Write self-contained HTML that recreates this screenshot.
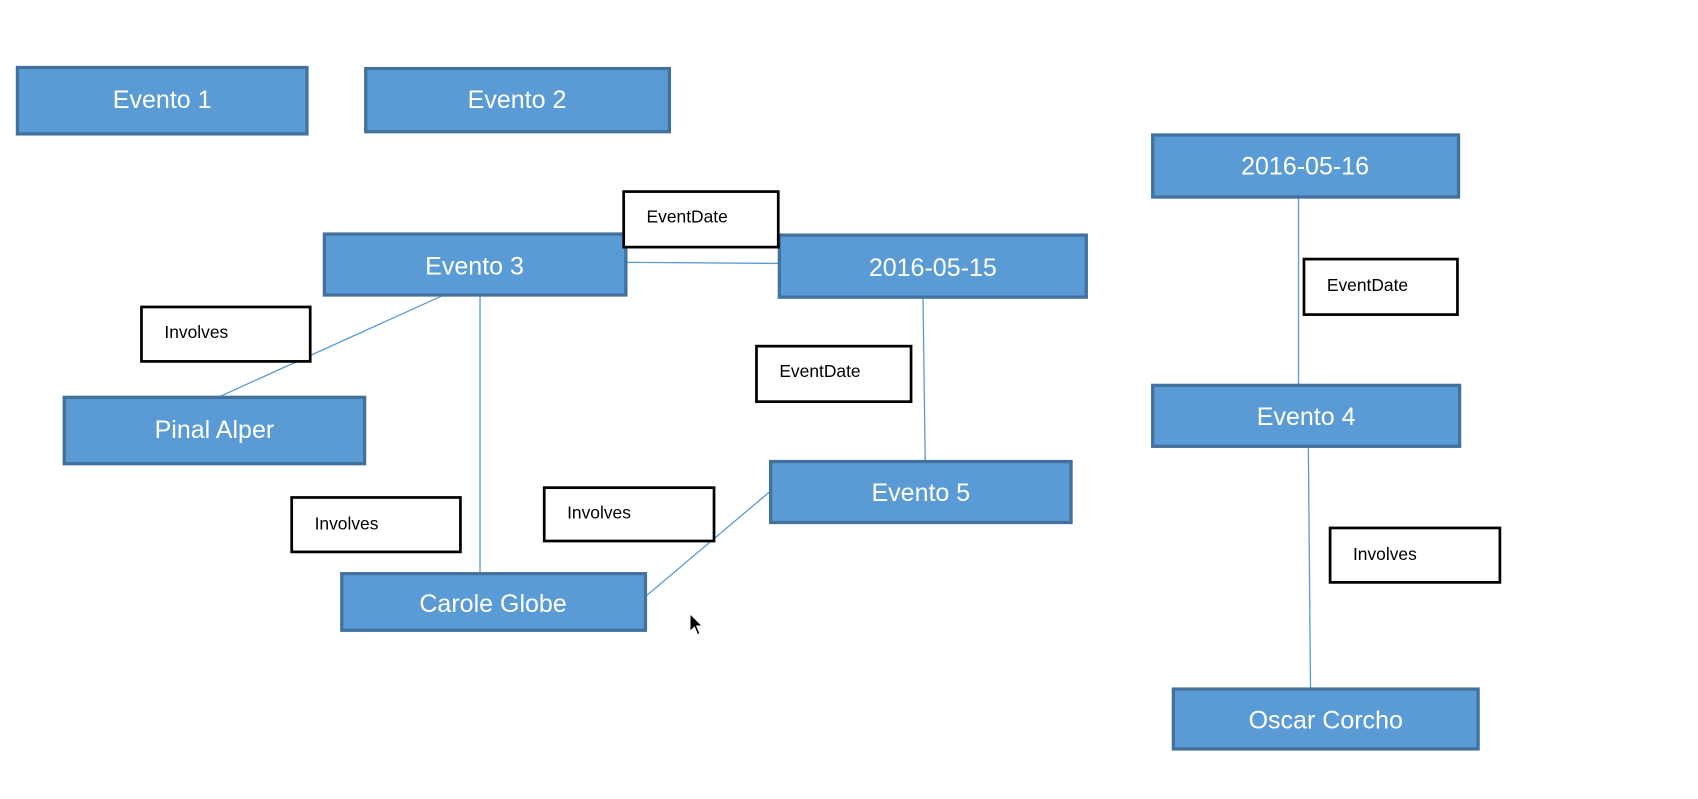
<!DOCTYPE html>
<html><head><meta charset="utf-8"><style>
html,body{margin:0;padding:0;background:#fff;width:1698px;height:799px;overflow:hidden}
svg{display:block}
.b{fill:#5b9bd5;stroke:#41719c;stroke-width:3}
.bt{fill:#fff;font-family:"Liberation Sans",sans-serif;font-size:23px;text-anchor:middle;dominant-baseline:central}
.l{fill:#fff;stroke:#000;stroke-width:2.5}
.lt{fill:#000;font-family:"Liberation Sans",sans-serif;font-size:16px;dominant-baseline:central}
.c{stroke:#5b9bd5;stroke-width:1.2;fill:none}
</style></head><body>
<svg width="1698" height="799" viewBox="0 0 1560 734" preserveAspectRatio="none">
<line class="c" x1="575" y1="241" x2="716" y2="242"/>
<line class="c" x1="410" y1="270" x2="198" y2="366"/>
<line class="c" x1="441" y1="271" x2="441" y2="527"/>
<line class="c" x1="848" y1="273" x2="850" y2="424"/>
<line class="c" x1="708" y1="451" x2="593" y2="548"/>
<line class="c" x1="1193" y1="181" x2="1193" y2="354"/>
<line class="c" x1="1202" y1="410" x2="1204" y2="633"/>

<rect class="b" x="16" y="62" width="266" height="61"/><text class="bt" x="149" y="92">Evento 1</text>
<rect class="b" x="336" y="63" width="279" height="58"/><text class="bt" x="475" y="92">Evento 2</text>
<rect class="b" x="1059" y="124" width="281" height="57"/><text class="bt" x="1199" y="153">2016-05-16</text>
<rect class="b" x="298" y="215" width="277" height="56"/><text class="bt" x="436" y="245">Evento 3</text>
<rect class="b" x="716" y="216" width="282" height="57"/><text class="bt" x="857" y="246">2016-05-15</text>
<rect class="b" x="59" y="365" width="276" height="61"/><text class="bt" x="197" y="395">Pinal Alper</text>
<rect class="b" x="1059" y="354" width="282" height="56"/><text class="bt" x="1200" y="383">Evento 4</text>
<rect class="b" x="708" y="424" width="276" height="56"/><text class="bt" x="846" y="453">Evento 5</text>
<rect class="b" x="314" y="527" width="279" height="52"/><text class="bt" x="453" y="555">Carole Globe</text>
<rect class="b" x="1078" y="633" width="280" height="55"/><text class="bt" x="1218" y="662">Oscar Corcho</text>

<rect class="l" x="573" y="176" width="142" height="51"/><text class="lt" x="594" y="199">EventDate</text>
<rect class="l" x="1198" y="238" width="141" height="51"/><text class="lt" x="1219" y="262">EventDate</text>
<rect class="l" x="130" y="282" width="155" height="50"/><text class="lt" x="151" y="305">Involves</text>
<rect class="l" x="695" y="318" width="142" height="51"/><text class="lt" x="716" y="341">EventDate</text>
<rect class="l" x="268" y="457" width="155" height="50"/><text class="lt" x="289" y="481">Involves</text>
<rect class="l" x="500" y="448" width="156" height="49"/><text class="lt" x="521" y="471">Involves</text>
<rect class="l" x="1222" y="485" width="156" height="50"/><text class="lt" x="1243" y="509">Involves</text>

<path d="M634 564 L634 580 L638 576 L641 583 L643 582 L640 575 L645 575 Z" fill="#000" stroke="#fff" stroke-width="0.8"/>
</svg>
</body></html>
